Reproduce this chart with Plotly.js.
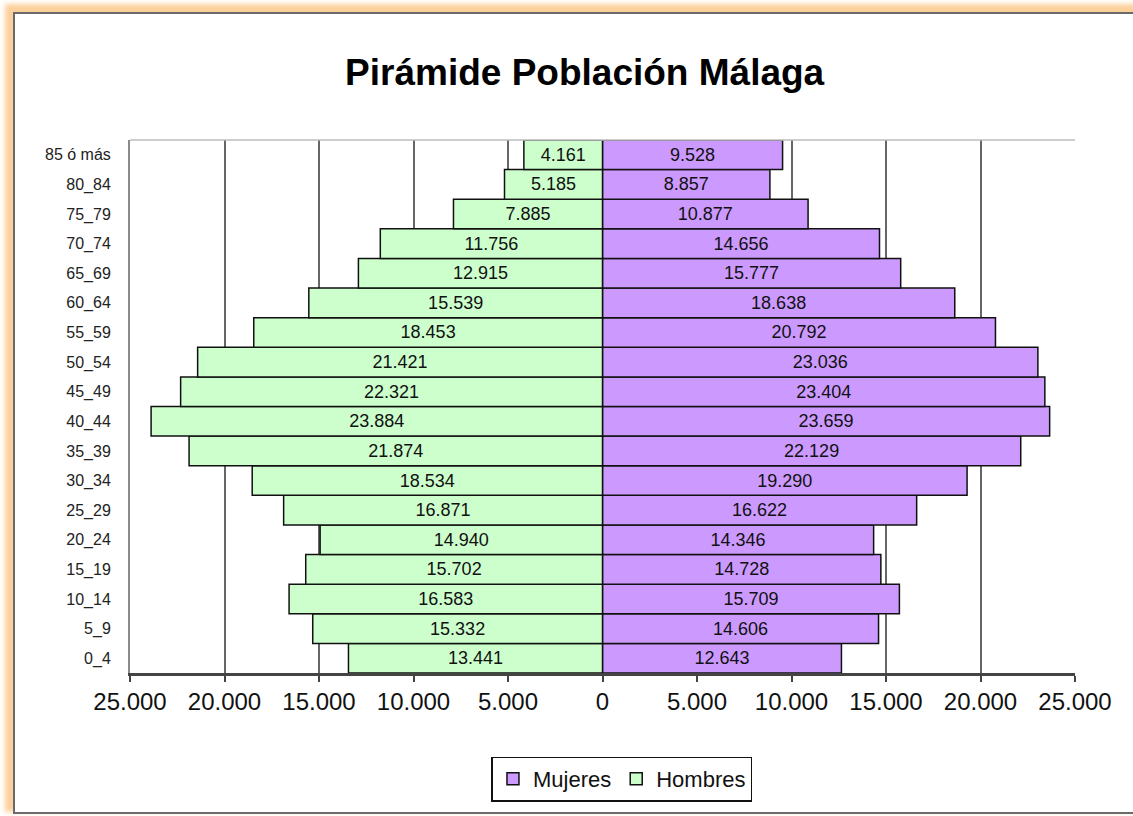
<!DOCTYPE html>
<html>
<head>
<meta charset="utf-8">
<script src="https://cdn.plot.ly/plotly-3.0.1.min.js"></script>
<style>
  html, body { margin:0; padding:0; width:1133px; height:816px; overflow:hidden; background:#ffffff; }
  #frame { position:absolute; left:13px; top:12px; width:1200px; height:798px;
           border:2.5px solid #6a6a6a; border-right:none; background:#ffffff;
           box-shadow:-5px -5px 5px 3px #fcd09a; }
  #chart { position:absolute; left:0; top:0; width:1133px; height:816px; }
</style>
</head>
<body>
<div id="frame"></div>
<div id="chart"></div>
<script>
const categories = ['0_4','5_9','10_14','15_19','20_24','25_29','30_34','35_39','40_44','45_49','50_54','55_59','60_64','65_69','70_74','75_79','80_84','85 ó más'];
const hombres = [13441,15332,16583,15702,14940,16871,18534,21874,23884,22321,21421,18453,15539,12915,11756,7885,5185,4161];
const mujeres = [12643,14606,15709,14728,14346,16622,19290,22129,23659,23404,23036,20792,18638,15777,14656,10877,8857,9528];
const tickValues = [-25000,-20000,-15000,-10000,-5000,0,5000,10000,15000,20000,25000];
const tickLabels = ['25.000','20.000','15.000','10.000','5.000','0','5.000','10.000','15.000','20.000','25.000'];

function fmt(v){ return String(v).replace(/\B(?=(\d{3})+(?!\d))/g,'.'); }

const FONT = 'Liberation Sans, Arial, Helvetica, sans-serif';

const traceM = {
  type:'bar', orientation:'h', name:'Mujeres',
  y: categories, x: mujeres,
  text: mujeres.map(fmt), textposition:'inside', insidetextanchor:'middle',
  textangle:0, constraintext:'none',
  textfont:{family:FONT, size:18, color:'#111'},
  marker:{color:'#cc99ff', line:{color:'#111', width:1.5}},
  hoverinfo:'none'
};
const traceH = {
  type:'bar', orientation:'h', name:'Hombres',
  y: categories, x: hombres.map(v => -v),
  text: hombres.map(fmt), textposition:'inside', insidetextanchor:'middle',
  textangle:0, constraintext:'none',
  textfont:{family:FONT, size:18, color:'#111'},
  marker:{color:'#ccffcc', line:{color:'#111', width:1.5}},
  hoverinfo:'none'
};

const layout = {
  width:1133, height:816,
  margin:{l:130, r:58, t:140, b:143, pad:0},
  paper_bgcolor:'rgba(0,0,0,0)', plot_bgcolor:'#ffffff',
  barmode:'relative', bargap:0,
  showlegend:true,
  font:{family:FONT, color:'#111'},
  title:{text:'Pirámide Población Málaga', font:{family:FONT, size:37, weight:'bold', color:'#000'},
         x:0.516, xanchor:'center', y:1-72/816, yanchor:'middle', yref:'container'},
  xaxis:{range:[-25000,25000], tickvals:tickValues, ticktext:tickLabels,
         showgrid:true, gridcolor:'#666666', gridwidth:2, zeroline:false,
         showline:true, linecolor:'#444', linewidth:2.5,
         ticks:'outside', ticklen:6, tickwidth:2, tickcolor:'#444',
         tickfont:{family:FONT, size:24, color:'#111'}, fixedrange:true},
  yaxis:{type:'category', categoryorder:'array', categoryarray:categories,
         showgrid:false, zeroline:false, showline:true, linecolor:'#8a8a8a', linewidth:2,
         ticks:'', ticklabelstandoff:14,
         tickfont:{family:FONT, size:16, color:'#222'}, fixedrange:true},
  legend:{orientation:'h', x:0.5206, xanchor:'center', y:-0.199, yanchor:'middle',
          bgcolor:'#ffffff', bordercolor:'#111', borderwidth:1.5,
          font:{family:FONT, size:22, color:'#111'}, traceorder:'normal'},
  shapes:[{type:'line', xref:'paper', yref:'paper', x0:0, x1:1, y0:1, y1:1,
           line:{color:'#bdbdbd', width:1.5}}]
};

Plotly.newPlot('chart', [traceM, traceH], layout, {displayModeBar:false, staticPlot:true});
</script>
</body>
</html>
